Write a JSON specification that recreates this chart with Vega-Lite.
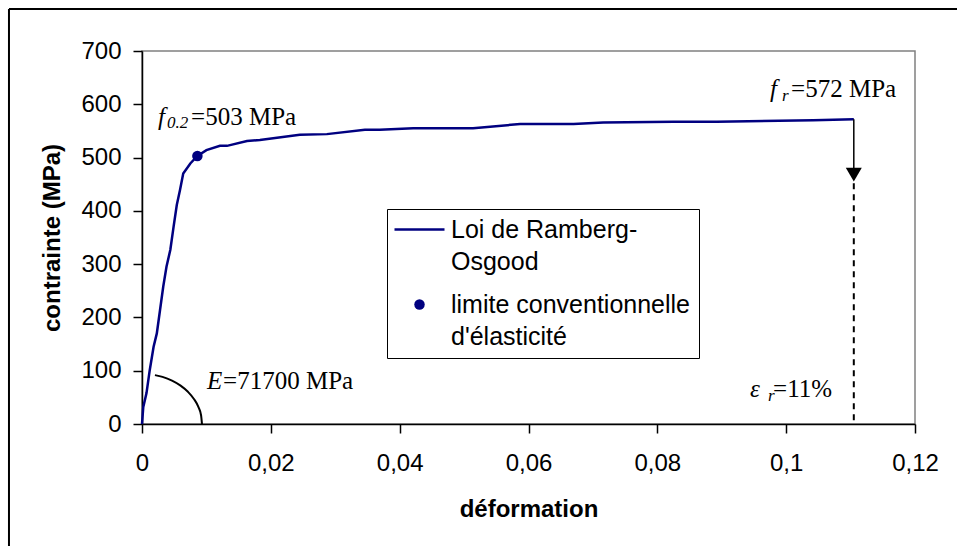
{
  "$schema": "https://vega.github.io/schema/vega-lite/v6.json",
  "width": 773,
  "height": 373,
  "autosize": {"type": "none"},
  "padding": {"left": 142, "top": 51, "right": 42, "bottom": 122},
  "background": "white",
  "config": {
    "view": {"stroke": "#808080", "strokeWidth": 1.5},
    "axis": {
      "grid": false,
      "domainColor": "#000",
      "domainWidth": 1.5,
      "tickColor": "#000",
      "tickWidth": 1.5,
      "tickSize": 9,
      "labelFont": "Liberation Sans",
      "labelFontSize": 24,
      "labelColor": "#000",
      "titleFont": "Liberation Sans",
      "titleFontSize": 24,
      "titleFontWeight": "bold",
      "titleColor": "#000"
    },
    "legend": {
      "orient": "none",
      "legendX": 245,
      "legendY": 158,
      "strokeColor": "#000",
      "fillColor": "#fff",
      "padding": 8,
      "labelFont": "Liberation Sans",
      "labelFontSize": 25,
      "labelColor": "#000",
      "labelOffset": 19,
      "symbolOffset": 12,
      "labelLimit": 0,
      "rowPadding": 17,
      "symbolSize": 2500,
      "symbolStrokeWidth": 2.5
    }
  },
  "layer": [
    {
      "data": {"values": [
        {"x": 0, "y": 0}, {"x": 0.0002, "y": 32}, {"x": 0.0007, "y": 58}, {"x": 0.0012, "y": 101},
        {"x": 0.0018, "y": 145}, {"x": 0.0023, "y": 170}, {"x": 0.0028, "y": 214}, {"x": 0.0033, "y": 258},
        {"x": 0.0038, "y": 295}, {"x": 0.0044, "y": 327}, {"x": 0.0049, "y": 370}, {"x": 0.0054, "y": 411},
        {"x": 0.0059, "y": 439}, {"x": 0.0064, "y": 470}, {"x": 0.0075, "y": 489}, {"x": 0.0086, "y": 503},
        {"x": 0.0100, "y": 514}, {"x": 0.0121, "y": 522}, {"x": 0.0132, "y": 522}, {"x": 0.0163, "y": 531},
        {"x": 0.0183, "y": 533}, {"x": 0.0245, "y": 543}, {"x": 0.0287, "y": 544}, {"x": 0.0346, "y": 552},
        {"x": 0.0369, "y": 552}, {"x": 0.0421, "y": 555}, {"x": 0.0514, "y": 555}, {"x": 0.0587, "y": 563},
        {"x": 0.0670, "y": 563}, {"x": 0.0716, "y": 566}, {"x": 0.0825, "y": 567}, {"x": 0.0892, "y": 567},
        {"x": 0.1042, "y": 570}, {"x": 0.1105, "y": 572}
      ]},
      "mark": {"type": "line", "strokeWidth": 2.5},
      "encoding": {
        "x": {
          "field": "x", "type": "quantitative",
          "scale": {"domain": [0, 0.12], "nice": false, "zero": false},
          "axis": {"title": "déformation", "values": [0, 0.02, 0.04, 0.06, 0.08, 0.1, 0.12], "labelExpr": "replace(format(datum.value, '~g'), '.', ',')", "labelPadding": 18, "titlePadding": 22, "labelFlush": false, "labelOverlap": false}
        },
        "y": {
          "field": "y", "type": "quantitative",
          "scale": {"domain": [0, 700], "nice": false},
          "axis": {"title": "contrainte (MPa)", "values": [0, 100, 200, 300, 400, 500, 600, 700], "labelPadding": 12, "titlePadding": 16}
        },
        "color": {
          "datum": "Loi de Ramberg-Osgood",
          "scale": {"domain": ["Loi de Ramberg-Osgood", "limite conventionnelle d'élasticité"], "range": ["#000080", "#000080"]},
          "legend": {
            "title": null,
            "labelExpr": "datum.value === 'Loi de Ramberg-Osgood' ? ['Loi de Ramberg-', 'Osgood'] : ['limite conventionnelle', \"d'élasticité\"]",
            "encode": {
              "symbols": {"update": {
                "shape": {"signal": "datum.value === 'Loi de Ramberg-Osgood' ? 'stroke' : 'circle'"},
                "size": {"signal": "datum.value === 'Loi de Ramberg-Osgood' ? 2500 : 110"},
                "fill": {"signal": "datum.value === 'Loi de Ramberg-Osgood' ? 'transparent' : '#000080'"},
                "stroke": {"value": "#000080"},
                "strokeWidth": {"signal": "datum.value === 'Loi de Ramberg-Osgood' ? 2.5 : 0"},
                "opacity": {"value": 1}
              }},
              "labels": {"update": {"lineHeight": {"value": 32}}}
            }
          }
        }
      }
    },
    {
      "data": {"values": [{"x": 0.0086, "y": 503}]},
      "mark": {"type": "point", "filled": true, "size": 110, "opacity": 1},
      "encoding": {
        "x": {"field": "x", "type": "quantitative"},
        "y": {"field": "y", "type": "quantitative"},
        "color": {"datum": "limite conventionnelle d'élasticité"}
      }
    },
    {
      "data": {"values": [
        {"x": 0.00931, "y": 0}, {"x": 0.00917, "y": 16.4}, {"x": 0.00875, "y": 32.1}, {"x": 0.00806, "y": 47},
        {"x": 0.00713, "y": 60.4}, {"x": 0.00599, "y": 72}, {"x": 0.00466, "y": 81.4}, {"x": 0.00318, "y": 88.4},
        {"x": 0.00201, "y": 91.7}
      ]},
      "mark": {"type": "line", "color": "#000", "strokeWidth": 2, "interpolate": "monotone"},
      "encoding": {
        "x": {"field": "x", "type": "quantitative"},
        "y": {"field": "y", "type": "quantitative"}
      }
    },
    {
      "data": {"values": [{}]},
      "mark": {"type": "rule", "color": "#000", "strokeWidth": 1.5},
      "encoding": {"x": {"datum": 0.1105, "type": "quantitative"}, "y": {"datum": 572, "type": "quantitative"}, "y2": {"datum": 480}}
    },
    {
      "data": {"values": [{}]},
      "mark": {"type": "point", "shape": "triangle-down", "filled": true, "size": 256, "color": "#000", "opacity": 1},
      "encoding": {"x": {"datum": 0.1105, "type": "quantitative"}, "y": {"datum": 468, "type": "quantitative"}}
    },
    {
      "data": {"values": [{}]},
      "mark": {"type": "rule", "color": "#000", "strokeWidth": 2, "strokeDash": [6, 5]},
      "encoding": {"x": {"datum": 0.1105, "type": "quantitative"}, "y": {"datum": 452, "type": "quantitative"}, "y2": {"datum": 0}}
    },
    {
      "data": {"values": [{}]},
      "mark": {"type": "rule", "color": "#000", "strokeWidth": 2},
      "encoding": {"x": {"datum": -0.02065, "type": "quantitative"}, "y": {"datum": 779, "type": "quantitative"}, "y2": {"datum": -260}}
    },
    {
      "data": {"values": [{}]},
      "mark": {"type": "rule", "color": "#000", "strokeWidth": 2},
      "encoding": {"x": {"datum": -0.02065, "type": "quantitative"}, "x2": {"datum": 0.15}, "y": {"datum": 779, "type": "quantitative"}}
    },
    {
      "data": {"values": [{}]},
      "mark": {"type": "text", "text": "f", "font": "Liberation Serif", "fontSize": 25, "fontStyle": "italic", "align": "left", "baseline": "alphabetic", "color": "#000"},
      "encoding": {"x": {"datum": 0.0025, "type": "quantitative"}, "y": {"datum": 561, "type": "quantitative"}}
    },
    {
      "data": {"values": [{}]},
      "mark": {"type": "text", "text": "0.2", "font": "Liberation Serif", "fontSize": 17, "fontStyle": "italic", "align": "left", "baseline": "alphabetic", "color": "#000", "dx": 9, "dy": 3},
      "encoding": {"x": {"datum": 0.0025, "type": "quantitative"}, "y": {"datum": 561, "type": "quantitative"}}
    },
    {
      "data": {"values": [{}]},
      "mark": {"type": "text", "text": "=503 MPa", "font": "Liberation Serif", "fontSize": 25, "align": "left", "baseline": "alphabetic", "color": "#000", "dx": 33},
      "encoding": {"x": {"datum": 0.0025, "type": "quantitative"}, "y": {"datum": 561, "type": "quantitative"}}
    },
    {
      "data": {"values": [{}]},
      "mark": {"type": "text", "text": "f", "font": "Liberation Serif", "fontSize": 25, "fontStyle": "italic", "align": "left", "baseline": "alphabetic", "color": "#000"},
      "encoding": {"x": {"datum": 0.0975, "type": "quantitative"}, "y": {"datum": 614, "type": "quantitative"}}
    },
    {
      "data": {"values": [{}]},
      "mark": {"type": "text", "text": "r", "font": "Liberation Serif", "fontSize": 17, "fontStyle": "italic", "align": "left", "baseline": "alphabetic", "color": "#000", "dx": 12, "dy": 4},
      "encoding": {"x": {"datum": 0.0975, "type": "quantitative"}, "y": {"datum": 614, "type": "quantitative"}}
    },
    {
      "data": {"values": [{}]},
      "mark": {"type": "text", "text": "=572 MPa", "font": "Liberation Serif", "fontSize": 25, "align": "left", "baseline": "alphabetic", "color": "#000", "dx": 21},
      "encoding": {"x": {"datum": 0.0975, "type": "quantitative"}, "y": {"datum": 614, "type": "quantitative"}}
    },
    {
      "data": {"values": [{}]},
      "mark": {"type": "text", "text": "E", "font": "Liberation Serif", "fontSize": 25, "fontStyle": "italic", "align": "left", "baseline": "alphabetic", "color": "#000"},
      "encoding": {"x": {"datum": 0.0101, "type": "quantitative"}, "y": {"datum": 65, "type": "quantitative"}}
    },
    {
      "data": {"values": [{}]},
      "mark": {"type": "text", "text": "=71700 MPa", "font": "Liberation Serif", "fontSize": 25, "align": "left", "baseline": "alphabetic", "color": "#000", "dx": 16},
      "encoding": {"x": {"datum": 0.0101, "type": "quantitative"}, "y": {"datum": 65, "type": "quantitative"}}
    },
    {
      "data": {"values": [{}]},
      "mark": {"type": "text", "text": "ε", "font": "Liberation Serif", "fontSize": 25, "fontStyle": "italic", "align": "left", "baseline": "alphabetic", "color": "#000"},
      "encoding": {"x": {"datum": 0.0944, "type": "quantitative"}, "y": {"datum": 51, "type": "quantitative"}}
    },
    {
      "data": {"values": [{}]},
      "mark": {"type": "text", "text": "r", "font": "Liberation Serif", "fontSize": 17, "fontStyle": "italic", "align": "left", "baseline": "alphabetic", "color": "#000", "dx": 18, "dy": 4},
      "encoding": {"x": {"datum": 0.0944, "type": "quantitative"}, "y": {"datum": 51, "type": "quantitative"}}
    },
    {
      "data": {"values": [{}]},
      "mark": {"type": "text", "text": "=11%", "font": "Liberation Serif", "fontSize": 25, "align": "left", "baseline": "alphabetic", "color": "#000", "dx": 23},
      "encoding": {"x": {"datum": 0.0944, "type": "quantitative"}, "y": {"datum": 51, "type": "quantitative"}}
    }
  ]
}
